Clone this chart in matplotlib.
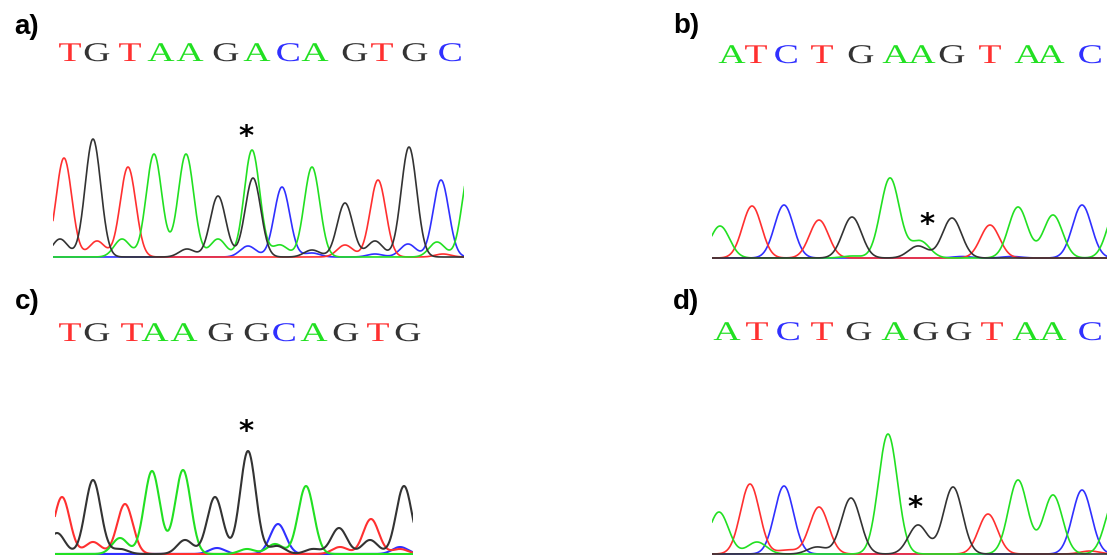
import numpy as np
import matplotlib.pyplot as plt
from matplotlib.textpath import TextPath
from matplotlib.patches import PathPatch
from matplotlib.font_manager import FontProperties
from matplotlib.transforms import Affine2D

# base -> trace colour
colors = {"T": "#ff3030", "G": "#333333", "A": "#22e022", "C": "#3030ff"}

# panel a) peaks: base -> (positions, heights)
seq_a = "TGTAAGACAGTGC"
seq_a_x = [17, 44, 77, 108, 137, 173, 204, 235, 262, 302, 329, 362, 397]
peaks_a = {
    "T": ([11, 44, 75, 292, 325, 390], [99, 16, 90, 12, 77, 3]),
    "G": ([7, 40, 134, 165, 200, 259, 292, 322, 356], [18, 118, 8, 61, 79, 7, 54, 16, 110]),
    "A": ([69, 101, 133, 165, 199, 227, 259, 384, 417], [18, 103, 103, 18, 107, 12, 90, 15, 90]),
    "C": ([195, 229, 259, 322, 355, 388], [11, 70, 4, 3, 13, 77]),
}

# panel b)
seq_b = "ATCTGAAGTAAC"
seq_b_x = [20, 44, 74, 110, 149, 184, 210, 240, 278, 316, 339, 378]
peaks_b = {
    "T": ([40, 107, 278], [52, 38, 33]),
    "G": ([140, 206, 240], [41, 12, 40]),
    "A": ([8, 140, 178, 208, 306, 341, 405], [32, 2, 80, 17, 51, 43, 50]),
    "C": ([72, 250, 300, 370], [53, 1.5, 1.5, 53]),
}

# panel c)
seq_c = "TGTAAGGCAGTG"
seq_c_x = [15, 42, 77, 100, 129, 166, 202, 229, 259, 291, 323, 353]
peaks_c = {
    "T": ([7, 38, 70, 285, 316, 345], [57, 12, 50, 7, 35, 5]),
    "G": ([2, 38, 65, 130, 160, 193, 222, 258, 284, 315, 349], [21, 74, 5, 14, 57, 103, 8, 5, 26, 14, 68]),
    "A": ([65, 97, 128, 192, 220, 251], [16, 83, 84, 5, 10, 68]),
    "C": ([162, 223, 345], [6, 30, 7]),
}

# panel d)
seq_d = "ATCTGAGGTAAC"
seq_d_x = [15, 45, 76, 110, 147, 183, 214, 247, 280, 314, 341, 378]
peaks_d = {
    "T": ([38, 75, 107, 276, 378], [70, 4, 47, 40, 3]),
    "G": ([105, 139, 206, 241], [7, 56, 29, 67]),
    "A": ([7, 45, 176, 306, 341, 403], [42, 12, 120, 74, 59, 55]),
    "C": ([72, 370], [68, 64]),
}

W, H = 1107, 555
fig = plt.figure(figsize=(W / 100, H / 100), dpi=100)
serif = FontProperties(family="Liberation Serif")


def letter(ax, ch, cx, y, stretch=1.4, size=27):
    # wide serif base call, built as a path so it can be stretched sideways
    tp = TextPath((0, 0), ch, size=size, prop=serif)
    ext = tp.get_extents()
    tr = Affine2D().translate(-(ext.x0 + ext.x1) / 2, 0).scale(stretch, 1).translate(cx, y)
    ax.add_patch(PathPatch(tr.transform_path(tp), color=colors[ch], lw=0, clip_on=False))


def chromatogram(left, baseline, width, peaks, sigma, seq, seq_x, seq_y, star, label, label_xy, lw=1.2):
    ax = fig.add_axes([left / W, (H - baseline - 2) / H, width / W, 242 / H])
    ax.set_xlim(0, width)
    ax.set_ylim(-2, 240)
    ax.axis("off")
    x = np.arange(0, width + 1, 0.5)
    for base in ["C", "T", "A", "G"]:
        pos, hts = peaks[base]
        y = np.zeros_like(x)
        for p, h in zip(pos, hts):
            y += h * np.exp(-((x - p) ** 2) / (2 * sigma ** 2))
        ax.plot(x, y, color=colors[base], lw=lw)
    for ch, cx in zip(seq, seq_x):
        letter(ax, ch, cx, seq_y)
    ax.text(star[0], star[1], "*", fontsize=21, fontweight="bold", ha="center", va="center")
    fig.text(label_xy[0] / W, 1 - label_xy[1] / H, label, fontsize=20, fontweight="bold",
             family="Liberation Sans", ha="center", va="center")


chromatogram(53, 257, 411, peaks_a, 7.8, seq_a, seq_a_x, 196, (193, 120), "a)", (27, 27))
chromatogram(712, 258, 395, peaks_b, 9.5, seq_b, seq_b_x, 195, (215, 33), "b)", (686, 26))
chromatogram(55, 554, 358, peaks_c, 7.8, seq_c, seq_c_x, 213, (191, 122), "c)", (27, 302), lw=1.5)
chromatogram(712, 554, 395, peaks_d, 9.5, seq_d, seq_d_x, 214, (203, 46), "d)", (686, 302))

fig.savefig("out.png", dpi=100)
